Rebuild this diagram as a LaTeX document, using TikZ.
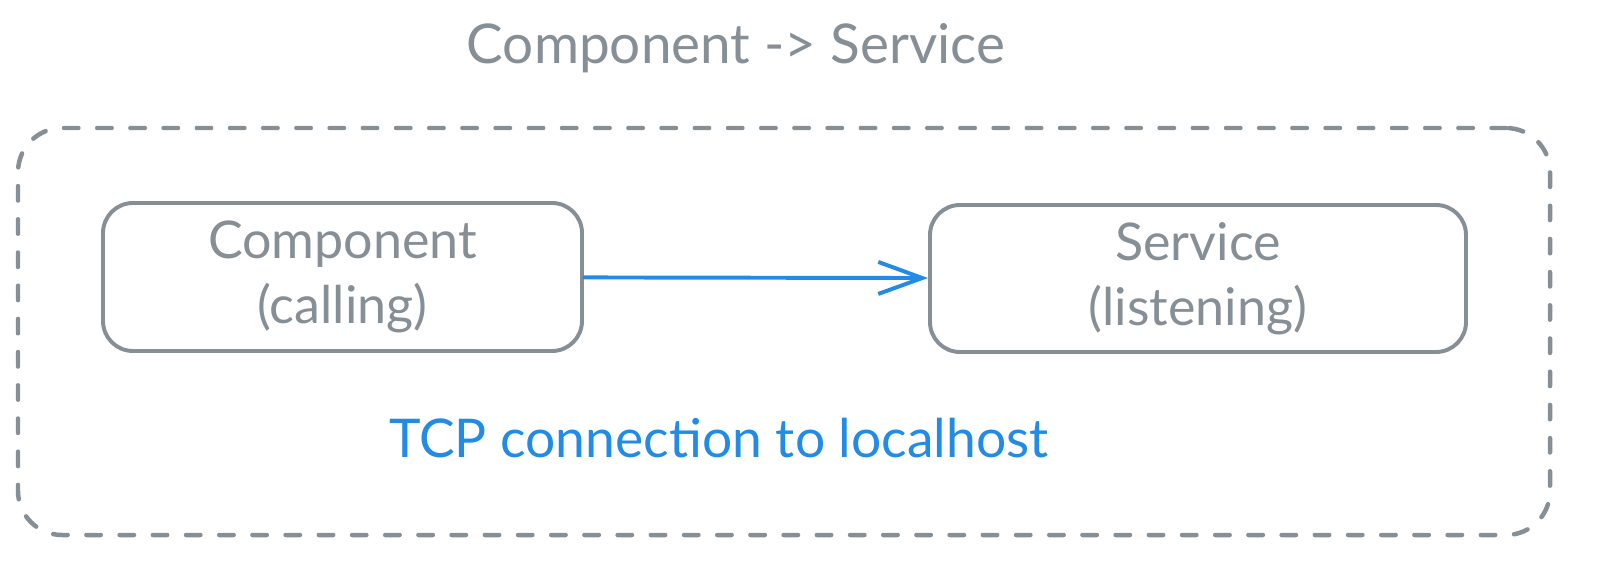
\documentclass[tikz,border=0pt]{standalone}
\usepackage{fontspec}
\setmainfont{Lato}
\usepackage{xcolor}
\usetikzlibrary{arrows.meta,positioning}
\definecolor{mygray}{HTML}{868E96}
\definecolor{myblue}{HTML}{228BE6}

\begin{document}
\begin{tikzpicture}[
    box/.style={draw=mygray,line width=2.8pt,rounded corners=0.75cm,align=center,text=mygray,font=\fontsize{37}{46}\selectfont},
    frame/.style={draw=mygray,line width=3.2pt,line cap=round,dash pattern=on 0.36cm off 0.47cm,rounded corners=1.1cm},
    arrow/.style={-{Straight Barb[length=1.1cm,width=0.8cm,line width=2.8pt]},draw=myblue,line width=2.8pt,line cap=round}
]
    % Canvas
    \useasboundingbox (0,0) rectangle (40,-14.175);

    % Title
    \node[text=mygray,font=\fontsize{39}{46}\selectfont] (title) at (18.4,-1.2) {Component -> Service};

    % Dashed frame around both parts
    \node[frame,minimum width=38.3cm,minimum height=10.175cm] (host) at (19.6,-8.2875) {};

    % The two parts
    \node[box,minimum width=11.975cm,minimum height=3.7cm] (cmp) at (8.5625,-6.925) {Component\\(calling)};
    \node[box,minimum width=13.4cm,minimum height=3.675cm] (srv) at (29.95,-6.9625) {Service\\(listening)};

    % Connection
    \draw[arrow] (cmp) -- (srv);

    % Caption
    \node[text=myblue,font=\fontsize{38}{44}\selectfont] (tcp) at (17.975,-10.95) {TCP connection to localhost};
\end{tikzpicture}
\end{document}
